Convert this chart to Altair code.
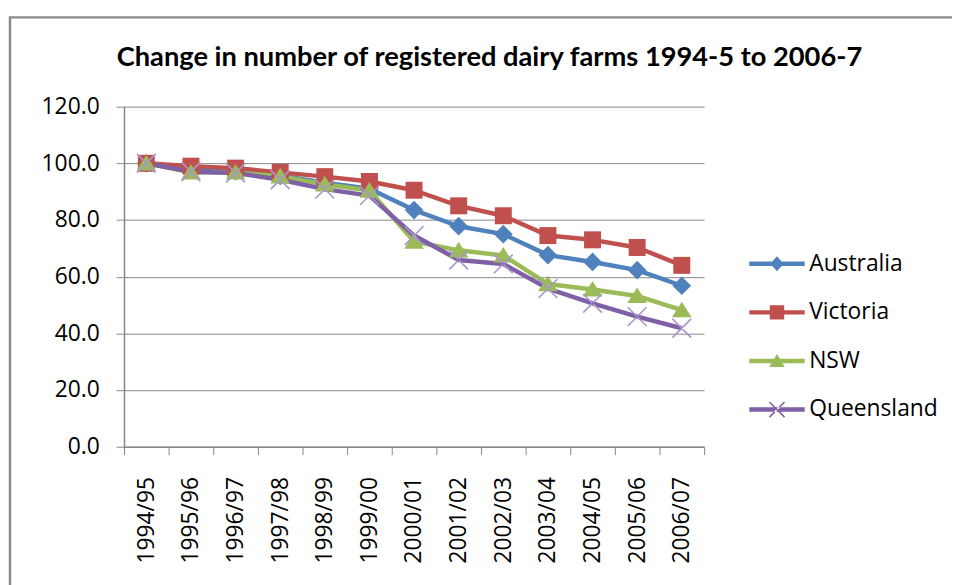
import math
import altair as alt
import pandas as pd

# ---------------- data ----------------
periods = ["1994/95", "1995/96", "1996/97", "1997/98", "1998/99", "1999/00", "2000/01",
           "2001/02", "2002/03", "2003/04", "2004/05", "2005/06", "2006/07"]
series_names = ["Australia", "Victoria", "NSW", "Queensland"]
australia = [100.0, 97.8, 97.2, 95.6, 93.2, 91.0, 83.5, 77.8, 75.0, 67.6, 65.2, 62.3, 56.8]
victoria = [100.0, 99.0, 98.3, 96.8, 95.3, 93.6, 90.5, 85.0, 81.5, 74.5, 73.0, 70.3, 64.0]
nsw = [100.0, 96.8, 96.8, 95.4, 92.6, 90.4, 72.4, 69.3, 67.5, 57.4, 55.5, 53.2, 48.2]
queensland = [100.0, 97.0, 96.6, 94.2, 90.9, 88.6, 74.5, 65.9, 64.5, 55.8, 50.6, 45.9, 41.8]
y_ticks = [0, 20, 40, 60, 80, 100, 120]

line_colors = ["#4F81BD", "#C0504D", "#9BBB59", "#7F5FA6"]
marker_colors = ["#4F81BD", "#C0504D", "#9BBB59", "#A995CF"]

rows = []
for name, vals in zip(series_names, [australia, victoria, nsw, queensland]):
    for p, v in zip(periods, vals):
        rows.append({"period": p, "series": name, "value": v})
df = pd.DataFrame(rows)

# ---------------- marker paths ----------------
def xpath(a, w, cx=0.0):
    d = w / math.sqrt(2)
    r1 = [(-a + d, -a - d), (a + d, a - d), (a - d, a + d), (-a - d, -a + d)]
    r2 = [(-a + d, a + d), (a + d, -a + d), (a - d, -a - d), (-a - d, a - d)]
    out = ""
    for r in (r1, r2):
        out += "M" + "L".join(f"{x + cx:.3f},{y:.3f}" for x, y in r) + "Z"
    return out

point_paths = [
    "M0,-1.05L1.05,0L0,1.05L-1.05,0Z",
    "M-0.95,-0.95L0.95,-0.95L0.95,0.95L-0.95,0.95Z",
    "M0,-0.95L1.1,0.8L-1.1,0.8Z",
    xpath(1.05, 0.09),
]

line_seg = "M-2.5,-0.2L2.5,-0.2L2.5,0.2L-2.5,0.2Z"
legend_paths = [
    line_seg + "M0,-0.68L0.6,0L0,0.68L-0.6,0Z",
    line_seg + "M-0.65,-0.65L0.65,-0.65L0.65,0.65L-0.65,0.65Z",
    line_seg + "M0,-0.62L0.7,0.55L-0.7,0.55Z",
    line_seg + xpath(0.68, 0.07),
]

FONT = "Open Sans"
GRAY = "#868686"

x_enc = alt.X(
    "period:N", sort=periods,
    scale=alt.Scale(type="band", domain=periods, paddingInner=0, paddingOuter=0),
    axis=alt.Axis(title=None, labelAngle=270, tickBand="extent", tickSize=8,
                  tickColor=GRAY, domainColor=GRAY, domainWidth=1.5,
                  labelFont=FONT, labelFontSize=23, labelColor="#000000",
                  labelPadding=22, grid=False, labelOverlap=False),
)
y_enc = alt.Y(
    "value:Q",
    scale=alt.Scale(domain=[0, 120], nice=False, zero=True),
    axis=alt.Axis(title=None, values=y_ticks, format=".1f", tickSize=8,
                  tickColor=GRAY, domainColor=GRAY, domainWidth=1.5,
                  gridColor=GRAY, gridWidth=1, grid=True,
                  labelFont=FONT, labelFontSize=23, labelColor="#000000",
                  labelPadding=17),
)

frame = alt.Chart(pd.DataFrame({"k": [0]})).mark_rect(
    filled=False, stroke="#8a8a8a", strokeWidth=2.5
).encode(x=alt.value(-115), x2=alt.value(845), y=alt.value(-90), y2=alt.value(500))

lines = alt.Chart(df).mark_line(strokeWidth=4.5, strokeJoin="round").encode(
    x=x_enc, y=y_enc,
    color=alt.Color("series:N", sort=series_names,
                    scale=alt.Scale(domain=series_names, range=line_colors), legend=None),
)

points = alt.Chart(df).mark_point(filled=True, opacity=1, size=324, strokeWidth=0).encode(
    x=x_enc, y=y_enc,
    fill=alt.Fill("series:N", sort=series_names,
                  scale=alt.Scale(domain=series_names, range=marker_colors), legend=None),
    shape=alt.Shape("series:N", sort=series_names,
                    scale=alt.Scale(domain=series_names, range=point_paths), legend=None),
)

leg = alt.Legend(title=None, orient="none", legendX=647, legendY=147, symbolSize=500,
                 labelFont=FONT, labelFontSize=23, labelColor="#000000", labelOffset=21,
                 rowPadding=25, padding=0, symbolStrokeWidth=0, labelLimit=0)

legend_layer = alt.Chart(df).transform_filter("datum.value < 0").mark_point(
    filled=True, opacity=1
).encode(
    x=x_enc, y=y_enc,
    color=alt.Color("series:N", sort=series_names,
                    scale=alt.Scale(domain=series_names, range=line_colors), legend=leg),
    shape=alt.Shape("series:N", sort=series_names,
                    scale=alt.Scale(domain=series_names, range=legend_paths), legend=leg),
)

chart = alt.layer(frame, lines, points, legend_layer).resolve_scale(
    color="independent", shape="independent", fill="independent"
).properties(
    width=585, height=343,
    autosize=alt.AutoSizeParams(type="none"),
    padding={"left": 117, "top": 97, "right": 250, "bottom": 140},
    title=alt.TitleParams(
        "Change in number of registered dairy farms 1994-5 to 2006-7",
        anchor="middle", frame="group", dx=76, offset=0, dy=56,
        font="Lato", fontSize=27.5, fontWeight="bold", color="#000000",
    ),
    background="#ffffff",
).configure_view(stroke=None)

chart.save("out.html", embed_options={"renderer": "svg", "actions": False})
